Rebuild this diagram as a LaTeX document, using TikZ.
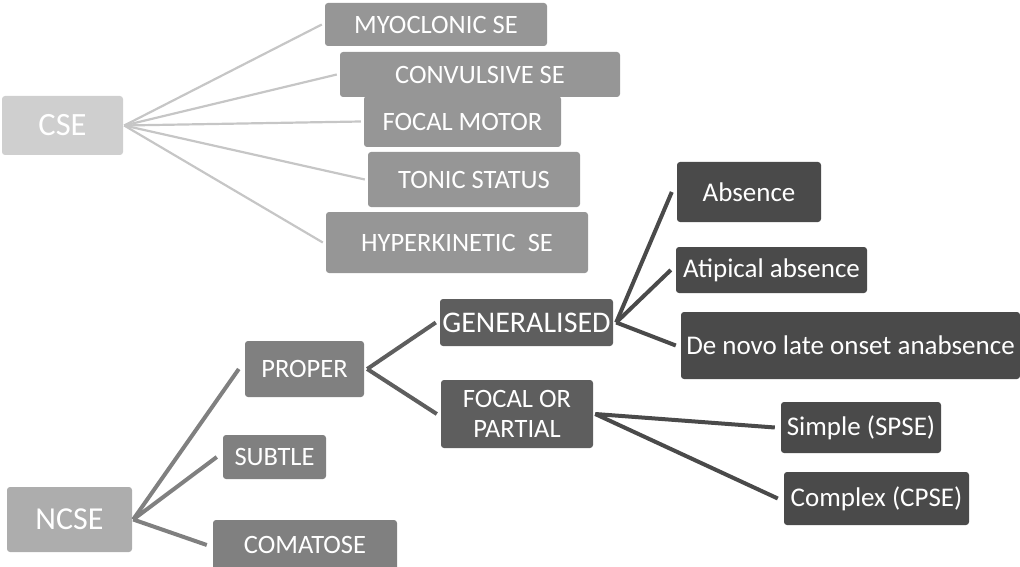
\documentclass[tikz,border=0pt]{standalone}
\usepackage{fontspec}
\setmainfont{Carlito}
\definecolor{cRoot}{HTML}{CFCFCF}
\definecolor{cKid}{HTML}{969696}
\definecolor{cLineA}{HTML}{C6C6C6}
\definecolor{nRoot}{HTML}{ADADAD}
\definecolor{nKid}{HTML}{808080}
\definecolor{nMid}{HTML}{5E5E5E}
\definecolor{nLeaf}{HTML}{4A4A4A}
\tikzset{
  box/.style={rounded corners=3pt, text=white, inner sep=0pt, align=center,
    font=\fontsize{26.5}{30}\selectfont},
  rootcse/.style={box, fill=cRoot, font=\fontsize{32.5}{35}\selectfont},
  kidcse/.style={box, fill=cKid},
  rootncse/.style={box, fill=nRoot, font=\fontsize{32}{35}\selectfont},
  kidncse/.style={box, fill=nKid},
  midbox/.style={box, fill=nMid},
  leafbox/.style={box, fill=nLeaf, font=\fontsize{27}{30}\selectfont},
  linkA/.style={draw=cLineA, line width=2.2pt},
  linkB/.style={draw=nKid, line width=4pt},
  linkC/.style={draw=nMid, line width=4pt},
  linkD/.style={draw=nLeaf, line width=4pt},
}
\begin{document}
\begin{tikzpicture}[x=1pt,y=-1pt]
\useasboundingbox (0,0) rectangle (1020,567);
% CSE branch
\node[rootcse, minimum width=121pt, minimum height=59pt] (cse) at (62.5,125.5) {CSE};
\node[kidcse, minimum width=222pt, minimum height=43pt] (myo) at (436,24.5) {MYOCLONIC SE};
\node[kidcse, minimum width=280pt, minimum height=45pt] (conv) at (480,74.5) {CONVULSIVE SE};
\node[kidcse, minimum width=197pt, minimum height=51pt] (fmot) at (462.5,121.5) {FOCAL MOTOR};
\node[kidcse, minimum width=212pt, minimum height=55pt] (tonic) at (474,179.5) {TONIC STATUS};
\node[kidcse, minimum width=262pt, minimum height=61pt] (hyper) at (457,242.5) {HYPERKINETIC\ \ SE};
\foreach \k in {myo,conv,fmot,tonic,hyper}
  \draw[linkA] ([xshift=1pt]cse.east) -- ([xshift=-3pt]\k.west);
% NCSE branch
\node[rootncse, minimum width=125pt, minimum height=65pt] (ncse) at (69.5,519.5) {NCSE};
\node[kidncse, minimum width=119pt, minimum height=56pt] (proper) at (304.5,369) {PROPER};
\node[kidncse, minimum width=103pt, minimum height=44pt] (subtle) at (274.5,457) {SUBTLE};
\node[kidncse, minimum width=184pt, minimum height=50pt] (coma) at (305,545) {COMATOSE};
\foreach \k in {proper,subtle,coma}
  \draw[linkB] ([xshift=1pt]ncse.east) -- ([xshift=-6pt]\k.west);
\node[midbox, minimum width=173pt, minimum height=47pt, font=\fontsize{30}{33}\selectfont] (gen) at (526.5,322.5) {GENERALISED};
\node[midbox, minimum width=152pt, minimum height=68pt] (focal) at (517,414) {FOCAL OR\\PARTIAL};
\foreach \k in {gen,focal}
  \draw[linkC] ([xshift=3pt]proper.east) -- ([xshift=-4pt]\k.west);
\node[leafbox, minimum width=144pt, minimum height=60pt] (abs) at (749,192) {Absence};
\node[leafbox, minimum width=191pt, minimum height=46pt] (ati) at (771.5,270) {Atipical absence};
\node[leafbox, minimum width=339pt, minimum height=67pt] (denovo) at (850.5,345.5) {De novo late onset anabsence};
\node[leafbox, minimum width=160pt, minimum height=51pt] (simple) at (861,427.5) {Simple (SPSE)};
\node[leafbox, minimum width=185pt, minimum height=53pt] (complex) at (876.5,498.5) {Complex (CPSE)};
\foreach \k in {abs,ati,denovo}
  \draw[linkD] ([xshift=3pt]gen.east) -- ([xshift=-5pt]\k.west);
\foreach \k in {simple,complex}
  \draw[linkD] ([xshift=2pt]focal.east) -- ([xshift=-6pt]\k.west);
\end{tikzpicture}
\end{document}
